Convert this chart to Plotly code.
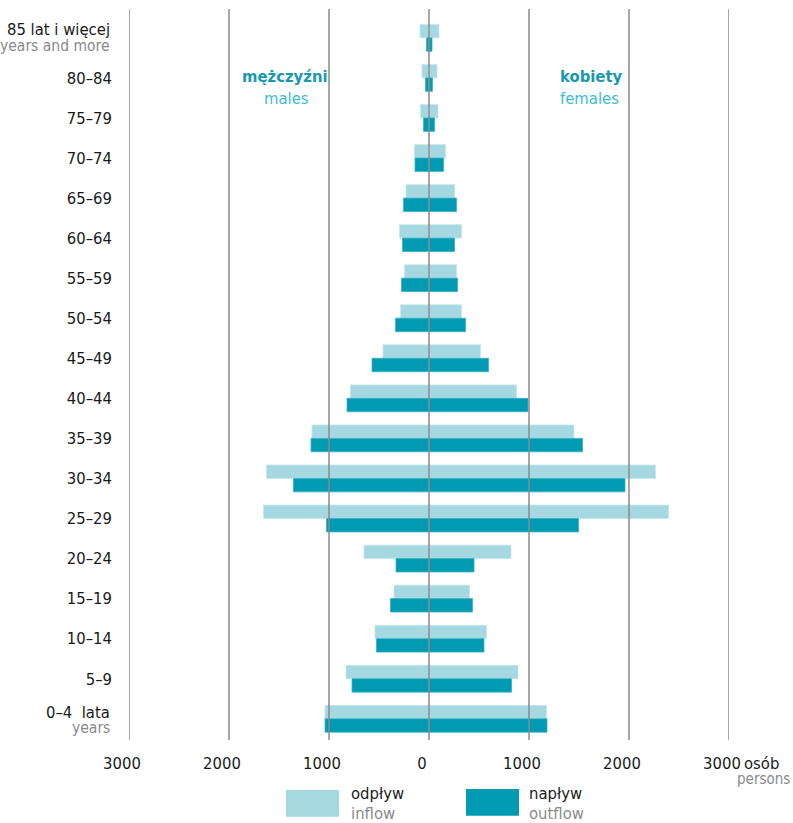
import plotly.graph_objects as go

# ---- data ----
AGES = ["0–4", "5–9", "10–14", "15–19", "20–24", "25–29", "30–34", "35–39",
        "40–44", "45–49", "50–54", "55–59", "60–64", "65–69", "70–74",
        "75–79", "80–84", "85+"]
MALE_ODPLYW = [1040, 830, 540, 350, 650, 1655, 1625, 1170, 785, 460, 285, 245,
               295, 230, 145, 85, 70, 90]
MALE_NAPLYW = [1040, 770, 525, 385, 330, 1025, 1355, 1180, 820, 570, 335, 275,
               265, 255, 140, 55, 35, 25]
FEMALE_ODPLYW = [1175, 890, 575, 405, 820, 2395, 2265, 1450, 875, 515, 325, 275,
                 325, 255, 165, 90, 80, 100]
FEMALE_NAPLYW = [1180, 825, 550, 435, 450, 1495, 1960, 1535, 990, 595, 365, 285,
                 255, 275, 145, 55, 35, 30]
TICKS = [-3000, -2000, -1000, 0, 1000, 2000, 3000]
TICK_LABELS = ["3000", "2000", "1000", "0", "1000", "2000", "3000"]

FONT = "DejaVu Sans Condensed, Liberation Sans Narrow, Arial Narrow, sans-serif"
FS = 16.5
LIGHT = "#a6d8e2"
DARK = "#009bb2"
GRAY = "#8a8a8a"
BLACK = "#1a1a1a"

pos = list(range(len(AGES)))
ylabels = ["" if a in ("0–4", "85+") else a for a in AGES]

fig = go.Figure()
W = 0.335
for xs, col, line, off, name in [
    ([-v for v in MALE_ODPLYW], LIGHT, "#c4e6ec", 0, "odpływ"),
    (FEMALE_ODPLYW, LIGHT, "#c4e6ec", 0, "odpływ"),
    ([-v for v in MALE_NAPLYW], DARK, "#35b2c4", -W, "napływ"),
    (FEMALE_NAPLYW, DARK, "#35b2c4", -W, "napływ"),
]:
    fig.add_trace(go.Bar(x=xs, y=pos, orientation="h", width=W, offset=off,
                         marker=dict(color=col, line=dict(color=line, width=0.8)),
                         name=name, showlegend=False))

# grid lines drawn above bars
for t in TICKS:
    fig.add_shape(type="line", xref="x", yref="paper", x0=t, x1=t, y0=0, y1=1,
                  line=dict(color=GRAY, width=1.5), layer="above")

ann = []
def txt(text, x, y, color=BLACK, size=FS, xanchor="center"):
    ann.append(dict(text=text, x=x, y=y, xref="paper", yref="paper", showarrow=False,
                    xanchor=xanchor, yanchor="middle",
                    font=dict(family=FONT, size=size, color=color)))

# two-line category labels
txt("85 lat i więcej", -0.0283, 0.9713, xanchor="right")
txt("years and more", -0.0283, 0.9494, color=GRAY, xanchor="right", size=15.5)
txt("0–4&nbsp;&nbsp;lata", -0.0283, 0.0383, xanchor="right")
txt("years", -0.0283, 0.0164, color=GRAY, xanchor="right", size=15.5)

# sex labels
txt("<b>mężczyźni</b>", 0.26, 0.908, color="#1899ad")
txt("males", 0.263, 0.877, color="#40bcd2")
txt("<b>kobiety</b>", 0.77, 0.908, color="#1899ad")
txt("females", 0.767, 0.877, color="#40bcd2")

# unit
txt("osób", 1.022, -0.0315, xanchor="left")
txt("persons", 1.105, -0.0535, color=GRAY, xanchor="right", size=15)

# legend
fig.add_shape(type="rect", xref="paper", yref="paper", x0=0.2617, x1=0.35,
              y0=-0.1049, y1=-0.0684, fillcolor=LIGHT, line=dict(width=0))
fig.add_shape(type="rect", xref="paper", yref="paper", x0=0.5617, x1=0.65,
              y0=-0.1036, y1=-0.067, fillcolor=DARK, line=dict(width=0))
txt("odpływ", 0.3667, -0.0735, xanchor="left")
txt("inflow", 0.3667, -0.1005, color=GRAY, xanchor="left")
txt("napływ", 0.6633, -0.0735, xanchor="left")
txt("outflow", 0.6633, -0.1005, color=GRAY, xanchor="left")

fig.update_layout(
    width=793, height=823,
    margin=dict(l=129, r=64, t=9, b=83),
    paper_bgcolor="white", plot_bgcolor="white",
    barmode="overlay",
    font=dict(family=FONT, size=FS, color=BLACK),
    annotations=ann,
    xaxis=dict(range=[-3000, 3000], tickvals=TICKS, ticktext=TICK_LABELS,
               showgrid=False, zeroline=False, showline=False, ticks="",
               ticklabelstandoff=11, ticklabelshift=-7,
               tickfont=dict(family=FONT, size=FS, color=BLACK)),
    yaxis=dict(range=[-0.53, 17.72], tickvals=pos, ticktext=ylabels,
               showgrid=False, zeroline=False, showline=False, ticks="",
               ticklabelstandoff=16,
               tickfont=dict(family=FONT, size=FS, color=BLACK)),
)

fig.write_html("out.html", config={"displayModeBar": False},
               post_script="document.body.style.margin='0';")
